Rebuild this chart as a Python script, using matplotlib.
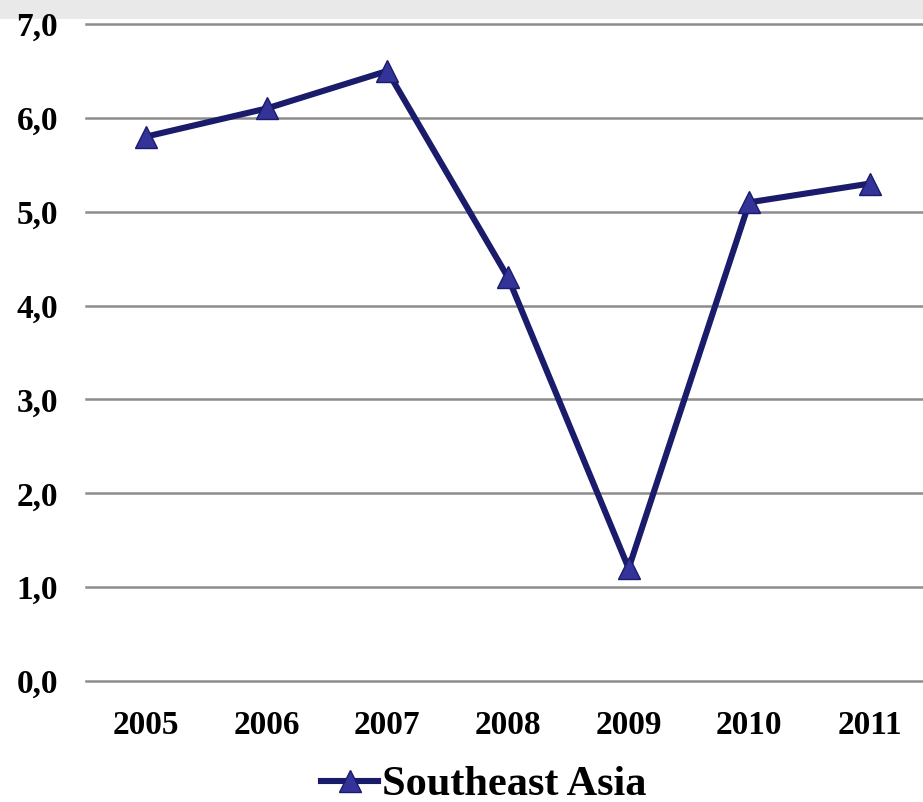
import matplotlib
matplotlib.use("Agg")
import matplotlib.pyplot as plt
from matplotlib.patches import Rectangle
from matplotlib.lines import Line2D

years = ["2005", "2006", "2007", "2008", "2009", "2010", "2011"]
values = [5.8, 6.1, 6.5, 4.3, 1.2, 5.1, 5.3]
yticks = [0, 1, 2, 3, 4, 5, 6, 7]
ytick_labels = ["0,0", "1,0", "2,0", "3,0", "4,0", "5,0", "6,0", "7,0"]
series_name = "Southeast Asia"

W, H = 923, 802
fig = plt.figure(figsize=(W / 100, H / 100), dpi=100)
fig.patch.set_facecolor("white")

# gray band at top
band = Rectangle((0, 1 - 19 / H), 1, 19 / H, transform=fig.transFigure,
                 facecolor="#e9e9e9", edgecolor="none", zorder=-5)
fig.patches.append(band)

left = 85.7 / W
width = 844.6 / W
bottom = (H - 681) / H
top = (H - 24) / H
ax = fig.add_axes([left, bottom, width, top - bottom])
ax.set_facecolor("none")
ax.set_zorder(2)

LINE_C = "#1b1b6b"
MARK_C = "#333399"
x = list(range(len(years)))
ax.plot(x, values, color=LINE_C, linewidth=4.4, marker="^", markersize=16,
        markerfacecolor=MARK_C, markeredgecolor=LINE_C, markeredgewidth=1.0,
        zorder=3, clip_on=False)

ax.set_xlim(-0.5, 6.5)
ax.set_ylim(0, 7)
ax.set_yticks(yticks)
ax.set_yticklabels(ytick_labels)
ax.set_xticks(x)
ax.set_xticklabels(years)
for yv in yticks:
    ax.axhline(yv, color="#8c8c8c", linewidth=1.8, zorder=1, clip_on=False)
for s in ax.spines.values():
    s.set_visible(False)
ax.tick_params(axis="both", length=0)
ax.tick_params(axis="y", pad=20)
ax.tick_params(axis="x", pad=21)
for lab in ax.get_yticklabels() + ax.get_xticklabels():
    lab.set_fontfamily("Liberation Serif")
    lab.set_fontweight("bold")
    lab.set_fontsize(24)

handle = Line2D([], [], color=LINE_C, linewidth=4.4, marker="^", markersize=16,
                markerfacecolor=MARK_C, markeredgecolor=LINE_C)
leg = fig.legend([handle], [series_name], loc="center",
                 bbox_to_anchor=(484 / W, (H - 785) / H),
                 frameon=False, handlelength=1.35, handletextpad=0.1,
                 borderpad=0.0, borderaxespad=0.0,
                 prop={"family": "Liberation Serif", "weight": "bold", "size": 30.5})

fig.savefig("out.png", dpi=100)
